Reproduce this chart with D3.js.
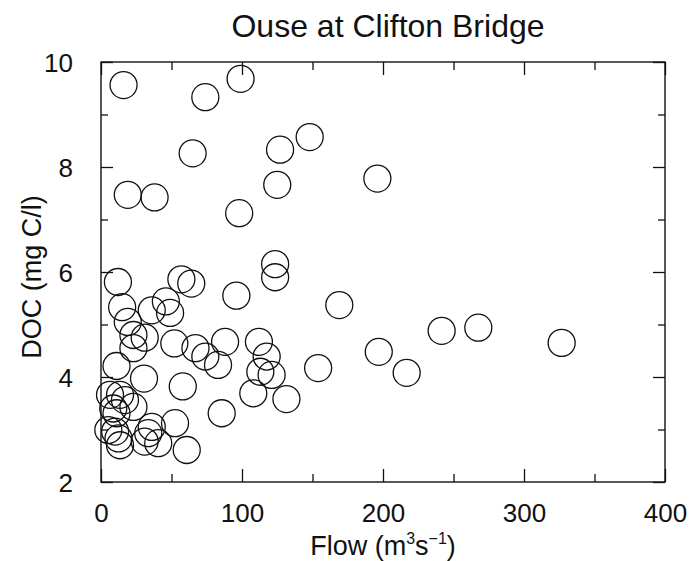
<!DOCTYPE html>
<html>
<head>
<meta charset="utf-8">
<script src="https://cdn.jsdelivr.net/npm/d3@7"></script>
<style>
  body { margin: 0; background: #fff; }
  text { font-family: "Liberation Sans", Arial, sans-serif; fill: #111; }
</style>
</head>
<body>
<svg id="chart"></svg>
<script>
// Flow (m3/s) and DOC (mg C/l)
const flow = [
    16, 99, 74, 65, 19, 38, 127, 148, 125, 98, 196,
    123.5, 123.5, 169, 96, 12, 57, 64, 15, 36, 46, 49, 19, 23, 31, 23,
    11, 52, 67, 74, 83, 88, 112, 117.5, 113, 121, 108, 131.5,
    241.6, 267.6, 326.7, 197, 216.8, 154, 30.5, 58, 85.6,
    6.4, 13.5, 17, 23, 8.7, 11, 5.2, 10, 12.4, 13.5, 33.5, 36, 52.5, 31, 40.6, 60.8
];
const doc = [
    9.56, 9.68, 9.33, 8.26, 7.47, 7.42, 8.33, 8.57, 7.66, 7.12, 7.78,
    6.15, 5.9, 5.37, 5.55, 5.81, 5.86, 5.78, 5.33, 5.27, 5.44, 5.22, 5.05, 4.8, 4.75, 4.55,
    4.21, 4.64, 4.55, 4.39, 4.23, 4.67, 4.67, 4.39, 4.1, 4.04, 3.69, 3.58,
    4.88, 4.94, 4.65, 4.48, 4.08, 4.17, 3.97, 3.82, 3.31,
    3.66, 3.66, 3.56, 3.43, 3.4, 3.31, 2.99, 2.96, 2.83, 2.7, 2.93, 3.05, 3.12, 2.77, 2.74, 2.61
];
const xMajor = [0, 100, 200, 300, 400];
const xMinor = [50, 150, 250, 350];
const yMajor = [2, 4, 6, 8, 10];
const yMinor = [3, 5, 7, 9];

const dataset = flow.map((f, i) => ({ flow: f, doc: doc[i] }));

const dimensions = {
    width: 692,
    height: 561,
    margin: { top: 62, right: 27, bottom: 79, left: 101 }
};
const plotW = dimensions.width - dimensions.margin.left - dimensions.margin.right;
const plotH = dimensions.height - dimensions.margin.top - dimensions.margin.bottom;

const svg = d3.select("#chart")
    .attr("width", dimensions.width)
    .attr("height", dimensions.height);

const xScale = d3.scaleLinear().domain([0, 400]).range([0, plotW]);
const yScale = d3.scaleLinear().domain([2, 10]).range([plotH, 0]);

const g = svg.append("g")
    .attr("transform", `translate(${dimensions.margin.left},${dimensions.margin.top})`);

// frame
g.append("rect")
    .attr("width", plotW)
    .attr("height", plotH)
    .attr("fill", "none")
    .attr("stroke", "#111")
    .attr("stroke-width", 1.4);

// inward ticks on all four sides
function ticks(axisFn, values, size, transform, labels) {
    const axis = axisFn(axisFn === d3.axisBottom || axisFn === d3.axisTop ? xScale : yScale)
        .tickValues(values)
        .tickSizeInner(-size)
        .tickSizeOuter(0)
        .tickPadding(size + 10)
        .tickFormat(labels ? d3.format("d") : "");
    const ax = g.append("g").attr("transform", transform).call(axis);
    ax.select(".domain").remove();
    ax.selectAll("line").attr("stroke", "#111").attr("stroke-width", 1.3);
    return ax;
}

const xb = ticks(d3.axisBottom, xMajor, 13, `translate(0,${plotH})`, true);
xb.selectAll("text").style("font-size", "26px").attr("dy", "0.65em");
ticks(d3.axisBottom, xMinor, 8, `translate(0,${plotH})`, false);
ticks(d3.axisTop, xMajor, 13, "translate(0,0)", false);
ticks(d3.axisTop, xMinor, 8, "translate(0,0)", false);

const yl = ticks(d3.axisLeft, yMajor, 12, "translate(0,0)", true);
yl.selectAll("text").style("font-size", "26px").attr("dx", "-6").attr("dy", "0.36em");
ticks(d3.axisLeft, yMinor, 7, "translate(0,0)", false);
ticks(d3.axisRight, yMajor, 12, `translate(${plotW},0)`, false);
ticks(d3.axisRight, yMinor, 7, `translate(${plotW},0)`, false);

// points
g.selectAll("circle")
    .data(dataset)
    .enter()
    .append("circle")
    .attr("cx", d => xScale(d.flow))
    .attr("cy", d => yScale(d.doc))
    .attr("r", 13.5)
    .attr("fill", "none")
    .attr("stroke", "#111")
    .attr("stroke-width", 1.3);

// title
svg.append("text")
    .attr("x", 388)
    .attr("y", 37)
    .attr("text-anchor", "middle")
    .style("font-size", "32px")
    .text("Ouse at Clifton Bridge");

// x label
const xl = svg.append("text")
    .attr("x", 383)
    .attr("y", 555)
    .attr("text-anchor", "middle")
    .style("font-size", "27px");
xl.append("tspan").text("Flow (m");
xl.append("tspan").attr("dy", -11).style("font-size", "16px").text("3");
xl.append("tspan").attr("dy", 11).text("s");
xl.append("tspan").attr("dy", -11).style("font-size", "16px").text("\u22121");
xl.append("tspan").attr("dy", 11).text(")");

// y label
svg.append("text")
    .attr("transform", `translate(41,${dimensions.margin.top + plotH / 2 + 5}) rotate(-90)`)
    .attr("text-anchor", "middle")
    .style("font-size", "27px")
    .text("DOC (mg C/l)");
</script>
</body>
</html>
